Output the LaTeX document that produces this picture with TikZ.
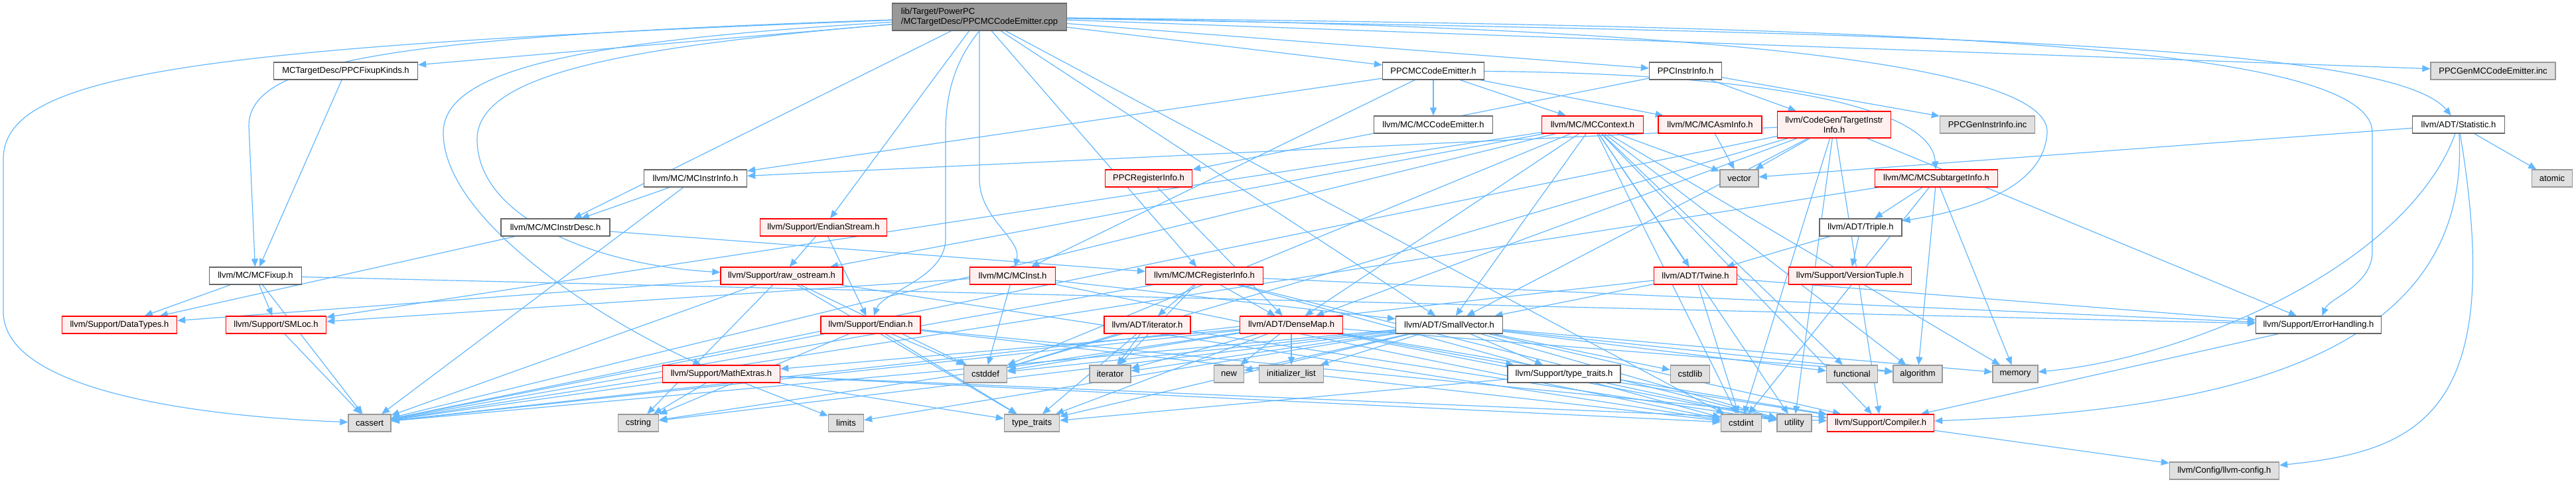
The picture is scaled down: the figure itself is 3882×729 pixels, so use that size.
\documentclass[tikz,border=0pt]{standalone}
\usepackage{fontspec}
\setmainfont{Liberation Sans}
\usetikzlibrary{arrows.meta}
\definecolor{clredge}{HTML}{63B8FF}
\definecolor{clrroot_fill}{HTML}{999999}
\definecolor{clrroot_border}{HTML}{666666}
\definecolor{clrdoc_border}{HTML}{666666}
\definecolor{clrtrunc_fill}{HTML}{FFF0F0}
\definecolor{clrtrunc_border}{HTML}{FF0000}
\definecolor{clrsys_fill}{HTML}{E0E0E0}
\definecolor{clrsys_border}{HTML}{999999}
\pgfdeclarelayer{bg}
\pgfsetlayers{bg,main}

\begin{document}
\begin{tikzpicture}[
    x=1pt, y=-1pt,
    >={Triangle[length=12pt,width=10pt]},
    every node/.style={font=\fontsize{13pt}{15pt}\selectfont},
    file/.style={rectangle, minimum height=26pt, inner sep=2pt, line width=1.3pt, text=black},
    rootfile/.style={file, fill=clrroot_fill, draw=clrroot_border, minimum height=41pt, align=left},
    docfile/.style={file, fill=white, draw=clrdoc_border},
    truncfile/.style={file, fill=clrtrunc_fill, draw=clrtrunc_border},
    sysfile/.style={file, fill=clrsys_fill, draw=clrsys_border},
    arrow/.style={->, draw=clredge, line width=1.2pt},
]
\useasboundingbox (0,0) rectangle (3882,729);
% row 0
\node[rootfile, minimum width=263pt] (n_root) at (1476,25.5) {lib/Target/PowerPC\\/MCTargetDesc/PPCMCCodeEmitter.cpp};
% row 1
\node[docfile, minimum width=217pt] (n_fixkinds) at (521,107) {MCTargetDesc/PPCFixupKinds.h};
\node[docfile, minimum width=153pt] (n_mcemitter) at (2160,107) {PPCMCCodeEmitter.h};
\node[docfile, minimum width=109pt] (n_ppcinstrinfo) at (2540,107) {PPCInstrInfo.h};
\node[sysfile, minimum width=188pt] (n_genemitter) at (3757,107) {PPCGenMCCodeEmitter.inc};
% row 2
\node[docfile, minimum width=179pt] (n_mccodeemitter) at (2160,188) {llvm/MC/MCCodeEmitter.h};
\node[truncfile, minimum width=153pt] (n_mccontext) at (2400,188) {llvm/MC/MCContext.h};
\node[truncfile, minimum width=156pt] (n_mcasminfo) at (2577,188) {llvm/MC/MCAsmInfo.h};
\node[truncfile, minimum width=171pt, minimum height=40pt, align=center] (n_targetinstrinfo) at (2764,188) {llvm/CodeGen/TargetInstr\\Info.h};
\node[sysfile, minimum width=143pt] (n_geninstrinfo) at (2995,188) {PPCGenInstrInfo.inc};
\node[docfile, minimum width=139pt] (n_statistic) at (3705,188) {llvm/ADT/Statistic.h};
% row 3
\node[docfile, minimum width=155pt] (n_mcinstrinfo) at (1048,269) {llvm/MC/MCInstrInfo.h};
\node[truncfile, minimum width=131pt] (n_ppcreginfo) at (1731,269) {PPCRegisterInfo.h};
\node[sysfile, minimum width=58pt] (n_vector) at (2621,269) {vector};
\node[truncfile, minimum width=185pt] (n_mcsubtarget) at (2918,269) {llvm/MC/MCSubtargetInfo.h};
\node[sysfile, minimum width=61pt] (n_atomic) at (3846,269) {atomic};
% row 4
\node[docfile, minimum width=164pt] (n_mcinstrdesc) at (837,343) {llvm/MC/MCInstrDesc.h};
\node[truncfile, minimum width=191pt] (n_endianstream) at (1241,343) {llvm/Support/EndianStream.h};
\node[docfile, minimum width=124pt] (n_triple) at (2804,343) {llvm/ADT/Triple.h};
% row 5
\node[docfile, minimum width=139pt] (n_mcfixup) at (385,416) {llvm/MC/MCFixup.h};
\node[truncfile, minimum width=184pt] (n_rawostream) at (1178,416) {llvm/Support/raw\_ostream.h};
\node[truncfile, minimum width=129pt] (n_mcinst) at (1526,416) {llvm/MC/MCInst.h};
\node[truncfile, minimum width=177pt] (n_mcreginfo) at (1815,416) {llvm/MC/MCRegisterInfo.h};
\node[truncfile, minimum width=125pt] (n_twine) at (2555,416) {llvm/ADT/Twine.h};
\node[truncfile, minimum width=185pt] (n_versiontuple) at (2788,416) {llvm/Support/VersionTuple.h};
% row 6
\node[truncfile, minimum width=173pt] (n_datatypes) at (180,490) {llvm/Support/DataTypes.h};
\node[truncfile, minimum width=151pt] (n_smloc) at (416,490) {llvm/Support/SMLoc.h};
\node[truncfile, minimum width=150pt] (n_endian) at (1312,490) {llvm/Support/Endian.h};
\node[truncfile, minimum width=130pt] (n_iteratorh) at (1729,490) {llvm/ADT/iterator.h};
\node[truncfile, minimum width=155pt] (n_densemap) at (1946,490) {llvm/ADT/DenseMap.h};
\node[docfile, minimum width=161pt] (n_smallvector) at (2184,490) {llvm/ADT/SmallVector.h};
\node[docfile, minimum width=189pt] (n_errorhandling) at (3494,490) {llvm/Support/ErrorHandling.h};
% row 7
\node[truncfile, minimum width=177pt] (n_mathextras) at (1087,564) {llvm/Support/MathExtras.h};
\node[sysfile, minimum width=65pt] (n_cstddef) at (1485,564) {cstddef};
\node[sysfile, minimum width=62pt] (n_iterator) at (1673,564) {iterator};
\node[sysfile, minimum width=45pt] (n_new) at (1852,564) {new};
\node[sysfile, minimum width=97pt] (n_initlist) at (1946,564) {initializer\_list};
\node[docfile, minimum width=170pt] (n_typetraitsh) at (2357,564) {llvm/Support/type\_traits.h};
\node[sysfile, minimum width=59pt] (n_cstdlib) at (2547,564) {cstdlib};
\node[sysfile, minimum width=77pt] (n_functional) at (2791,564) {functional};
\node[sysfile, minimum width=74pt] (n_algorithm) at (2890,564) {algorithm};
\node[sysfile, minimum width=68pt] (n_memory) at (3037,564) {memory};
% row 8
\node[sysfile, minimum width=64pt] (n_cassert) at (557,638) {cassert};
\node[sysfile, minimum width=61pt] (n_cstring) at (962,638) {cstring};
\node[sysfile, minimum width=53pt] (n_limits) at (1275,638) {limits};
\node[sysfile, minimum width=83pt] (n_typetraits) at (1555,638) {type\_traits};
\node[sysfile, minimum width=61pt] (n_cstdint) at (2624,638) {cstdint};
\node[sysfile, minimum width=52pt] (n_utility) at (2704,638) {utility};
\node[truncfile, minimum width=161pt] (n_compiler) at (2834,638) {llvm/Support/Compiler.h};
% row 9
\node[sysfile, minimum width=165pt] (n_llvmconfig) at (3352,710) {llvm/Config/llvm-config.h};

\begin{pgfonlayer}{bg}
\fill[white] (0,0) rectangle (3882,729);
% root file
\draw[arrow] (n_root) -- (n_fixkinds);
\draw[arrow] (n_root) .. controls (300,70) and (5,110) .. (5,240) -- (5,470) .. controls (5,600) and (350,630) .. (n_cassert);
\draw[arrow] (n_root) .. controls (600,55) and (375,90) .. (375,190) -- (n_mcfixup);
\draw[arrow] (n_root) .. controls (900,60) and (668,100) .. (668,200) .. controls (668,330) and (900,480) .. (n_mathextras);
\draw[arrow] (n_root) .. controls (950,70) and (719,110) .. (719,210) .. controls (719,330) and (900,400) .. (n_rawostream);
\draw[arrow] (n_root) -- (n_mcinstrdesc);
\draw[arrow] (n_root) -- (n_endianstream);
\draw[arrow] (n_root.south) .. controls (1440,90) and (1425,140) .. (1425,200) -- (1425,360) .. controls (1425,420) and (1330,440) .. (n_endian);
\draw[arrow] (n_root.south) -- (1476,270) .. controls (1476,330) and (1540,360) .. (n_mcinst);
\draw[arrow] (n_root) -- (n_smallvector);
\draw[arrow] (n_root) -- (n_mcreginfo);
\draw[arrow] (n_root) -- (n_cstdint);
\draw[arrow] (n_root) -- (n_mcemitter);
\draw[arrow] (n_root) -- (n_ppcinstrinfo);
\draw[arrow] (n_root) -- (n_genemitter);
\draw[arrow] (n_root) .. controls (2800,50) and (3600,60) .. (n_statistic);
\draw[arrow] (n_root) .. controls (2800,40) and (3575,60) .. (3575,200) -- (3575,380) .. controls (3575,430) and (3510,450) .. (n_errorhandling);
\draw[arrow] (n_root) .. controls (2500,40) and (3090,90) .. (3085,200) .. controls (3080,290) and (2950,320) .. (n_triple);
% first level headers
\draw[arrow] (n_fixkinds) -- (n_mcfixup);
\draw[arrow] (n_mcemitter) -- (n_mccodeemitter);
\draw[arrow] (n_mcemitter) -- (n_mccontext);
\draw[arrow] (n_mcemitter) -- (n_mcasminfo);
\draw[arrow] (n_mcemitter) .. controls (2600,110) and (2910,150) .. (n_mcsubtarget);
\draw[arrow] (n_mcemitter) -- (n_mcinstrinfo);
\draw[arrow] (n_mcemitter) -- (n_mcinst);
\draw[arrow] (n_ppcinstrinfo) -- (n_ppcreginfo);
\draw[arrow] (n_ppcinstrinfo) -- (n_targetinstrinfo);
\draw[arrow] (n_ppcinstrinfo) -- (n_geninstrinfo);
% MCContext
\draw[arrow] (n_mccontext) -- (n_vector);
\draw[arrow] (n_mccontext) -- (n_densemap);
\draw[arrow] (n_mccontext) -- (n_smallvector);
\draw[arrow] (n_mccontext) -- (n_twine);
\draw[arrow] (n_mccontext) -- (n_rawostream);
\draw[arrow] (n_mccontext) -- (n_smloc);
\draw[arrow] (n_mccontext) -- (n_cassert);
\draw[arrow] (n_mccontext) -- (n_cstddef);
\draw[arrow] (n_mccontext) -- (n_cstdint);
\draw[arrow] (n_mccontext) -- (n_functional);
\draw[arrow] (n_mccontext) -- (n_algorithm);
\draw[arrow] (n_mccontext) -- (n_memory);
\draw[arrow] (n_mccontext) -- (n_utility);
\draw[arrow] (n_mccontext) -- (n_compiler);
\draw[arrow] (n_mcasminfo) -- (n_vector);
% TargetInstrInfo
\draw[arrow] (n_targetinstrinfo) -- (n_vector);
\draw[arrow] (n_targetinstrinfo) -- (n_mcinstrinfo);
\draw[arrow] (n_targetinstrinfo) -- (n_densemap);
\draw[arrow] (n_targetinstrinfo) -- (n_smallvector);
\draw[arrow] (n_targetinstrinfo) -- (n_cassert);
\draw[arrow] (n_targetinstrinfo) -- (n_cstddef);
\draw[arrow] (n_targetinstrinfo) -- (n_cstdint);
\draw[arrow] (n_targetinstrinfo) -- (n_utility);
\draw[arrow] (n_targetinstrinfo) -- (n_errorhandling);
\draw[arrow] (n_targetinstrinfo) -- (n_compiler);
% MCSubtargetInfo
\draw[arrow] (n_mcsubtarget) -- (n_triple);
\draw[arrow] (n_mcsubtarget) -- (n_algorithm);
\draw[arrow] (n_mcsubtarget) -- (n_cassert);
\draw[arrow] (n_mcsubtarget) -- (n_memory);
\draw[arrow] (n_mcsubtarget) -- (n_cstdint);
% Statistic
\draw[arrow] (n_statistic) -- (n_atomic);
\draw[arrow] (n_statistic) -- (n_vector);
\draw[arrow] (n_statistic) .. controls (3627,400) and (3300,540) .. (n_memory);
\draw[arrow] (n_statistic) .. controls (3727,560) and (3300,620) .. (n_compiler);
\draw[arrow] (n_statistic) .. controls (3777,620) and (3650,680) .. (n_llvmconfig);
% Triple, Twine
\draw[arrow] (n_triple) -- (n_twine);
\draw[arrow] (n_triple) -- (n_versiontuple);
\draw[arrow] (n_twine) -- (n_smallvector);
\draw[arrow] (n_twine) -- (n_errorhandling);
\draw[arrow] (n_twine) -- (n_cassert);
\draw[arrow] (n_twine) -- (n_cstdint);
% MC headers
\draw[arrow] (n_mcinstrinfo) -- (n_mcinstrdesc);
\draw[arrow] (n_mcinstrinfo) -- (n_cassert);
\draw[arrow] (n_mcinstrdesc) -- (n_mcreginfo);
\draw[arrow] (n_mcinstrdesc) -- (n_datatypes);
\draw[arrow] (n_ppcreginfo) -- (n_densemap);
\draw[arrow] (n_mcfixup) -- (n_datatypes);
\draw[arrow] (n_mcfixup) -- (n_smloc);
\draw[arrow] (n_mcfixup) -- (n_cassert);
\draw[arrow] (n_mcfixup) -- (n_errorhandling);
\draw[arrow] (n_smloc) -- (n_cassert);
\draw[arrow] (n_mcinst) -- (n_smallvector);
\draw[arrow] (n_mcinst) -- (n_smloc);
\draw[arrow] (n_mcinst) -- (n_cstddef);
\draw[arrow] (n_mcinst) -- (n_cstdint);
\draw[arrow] (n_mcreginfo) -- (n_densemap);
\draw[arrow] (n_mcreginfo) -- (n_iteratorh);
\draw[arrow] (n_mcreginfo) -- (n_iterator);
\draw[arrow] (n_mcreginfo) -- (n_errorhandling);
\draw[arrow] (n_mcreginfo) -- (n_cassert);
\draw[arrow] (n_mcreginfo) -- (n_cstdint);
\draw[arrow] (n_mcreginfo) -- (n_utility);
% Support headers
\draw[arrow] (n_endianstream) -- (n_endian);
\draw[arrow] (n_endianstream) -- (n_rawostream);
\draw[arrow] (n_rawostream) -- (n_datatypes);
\draw[arrow] (n_rawostream) -- (n_cassert);
\draw[arrow] (n_rawostream) -- (n_cstddef);
\draw[arrow] (n_rawostream) -- (n_cstdint);
\draw[arrow] (n_rawostream) -- (n_cstring);
\draw[arrow] (n_rawostream) -- (n_typetraits);
\draw[arrow] (n_endian) -- (n_compiler);
\draw[arrow] (n_endian) -- (n_cassert);
\draw[arrow] (n_endian) -- (n_cstddef);
\draw[arrow] (n_endian) -- (n_cstdint);
\draw[arrow] (n_endian) -- (n_cstring);
\draw[arrow] (n_endian) -- (n_typetraits);
\draw[arrow] (n_mathextras) -- (n_compiler);
\draw[arrow] (n_mathextras) -- (n_cassert);
\draw[arrow] (n_mathextras) -- (n_cstdint);
\draw[arrow] (n_mathextras) -- (n_cstring);
\draw[arrow] (n_mathextras) -- (n_limits);
\draw[arrow] (n_mathextras) -- (n_typetraits);
% ADT headers
\draw[arrow] (n_iteratorh) -- (n_cstddef);
\draw[arrow] (n_iteratorh) -- (n_iterator);
\draw[arrow] (n_iteratorh) -- (n_typetraits);
\draw[arrow] (n_iteratorh) -- (n_utility);
\draw[arrow] (n_densemap) -- (n_compiler);
\draw[arrow] (n_densemap) -- (n_mathextras);
\draw[arrow] (n_densemap) -- (n_typetraitsh);
\draw[arrow] (n_densemap) -- (n_algorithm);
\draw[arrow] (n_densemap) -- (n_cassert);
\draw[arrow] (n_densemap) -- (n_cstddef);
\draw[arrow] (n_densemap) -- (n_cstring);
\draw[arrow] (n_densemap) -- (n_initlist);
\draw[arrow] (n_densemap) -- (n_iterator);
\draw[arrow] (n_densemap) -- (n_new);
\draw[arrow] (n_densemap) -- (n_typetraits);
\draw[arrow] (n_densemap) -- (n_utility);
\draw[arrow] (n_smallvector) -- (n_compiler);
\draw[arrow] (n_smallvector) -- (n_typetraitsh);
\draw[arrow] (n_smallvector) -- (n_algorithm);
\draw[arrow] (n_smallvector) -- (n_cassert);
\draw[arrow] (n_smallvector) -- (n_cstddef);
\draw[arrow] (n_smallvector) -- (n_cstdlib);
\draw[arrow] (n_smallvector) -- (n_cstring);
\draw[arrow] (n_smallvector) -- (n_functional);
\draw[arrow] (n_smallvector) -- (n_initlist);
\draw[arrow] (n_smallvector) -- (n_iterator);
\draw[arrow] (n_smallvector) -- (n_limits);
\draw[arrow] (n_smallvector) -- (n_memory);
\draw[arrow] (n_smallvector) -- (n_new);
\draw[arrow] (n_smallvector) -- (n_typetraits);
\draw[arrow] (n_smallvector) -- (n_utility);
\draw[arrow] (n_typetraitsh) -- (n_compiler);
\draw[arrow] (n_typetraitsh) -- (n_typetraits);
\draw[arrow] (n_typetraitsh) -- (n_utility);
\draw[arrow] (n_errorhandling) -- (n_compiler);
\draw[arrow] (n_compiler) -- (n_llvmconfig);
\end{pgfonlayer}
\end{tikzpicture}
\end{document}
